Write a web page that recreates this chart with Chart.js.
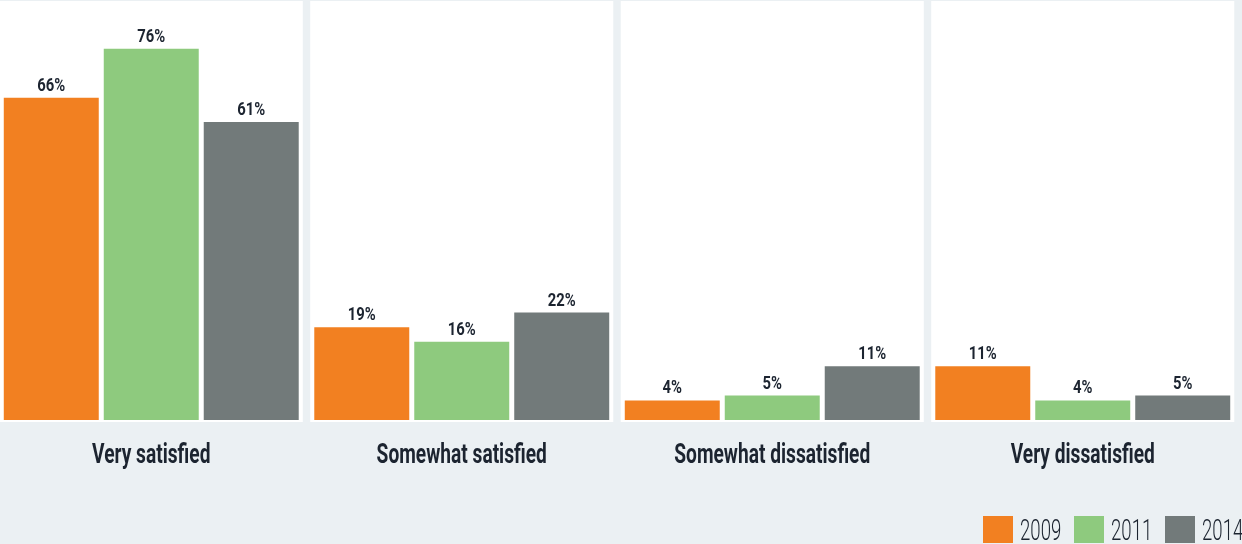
<!DOCTYPE html>
<html>
<head>
<meta charset="utf-8">
<script src="https://cdn.jsdelivr.net/npm/chart.js@4"></script>
<style>
  html, body { margin: 0; padding: 0; background: #ebf0f3; overflow: hidden; }
  #wrap { position: absolute; left: -4px; top: 0; width: 1246px; height: 544px; }
</style>
</head>
<body>
<div id="wrap"><canvas id="satisfaction"></canvas></div>
<script>
const categories = ["Very satisfied", "Somewhat satisfied", "Somewhat dissatisfied", "Very dissatisfied"];
const years = ["2009", "2011", "2014"];
const values2009 = [66, 19, 4, 11];
const values2011 = [76, 16, 5, 4];
const values2014 = [61, 22, 11, 5];
const colors = ["#f28021", "#8eca7e", "#727a7a"];

const FONT = "Roboto, 'DejaVu Sans', sans-serif";
const INK = "#1c2430";

// condensed-looking text: squeeze horizontally around the anchor point
function narrowText(ctx, text, x, y, sx) {
  ctx.save();
  ctx.translate(x, y);
  ctx.scale(sx, 1);
  ctx.fillText(text, 0, 0);
  ctx.restore();
}

// White panel behind each category group
const panels = {
  id: "panels",
  beforeDatasetsDraw(chart) {
    const { ctx, chartArea, scales } = chart;
    const x = scales.x;
    const half = (x.getPixelForValue(1) - x.getPixelForValue(0)) * 0.488;
    ctx.save();
    ctx.fillStyle = "#ffffff";
    categories.forEach((c, i) => {
      const cx = x.getPixelForValue(i);
      ctx.fillRect(cx - half, chartArea.top + 1, half * 2, chartArea.bottom - chartArea.top + 1);
    });
    ctx.restore();
  }
};

// Percent labels above each bar, category names below
const textLabels = {
  id: "textLabels",
  afterDatasetsDraw(chart) {
    const { ctx, chartArea, scales } = chart;
    ctx.save();
    ctx.fillStyle = INK;
    ctx.textAlign = "center";
    ctx.textBaseline = "alphabetic";

    ctx.font = "bold 19px " + FONT;
    chart.data.datasets.forEach((ds, di) => {
      chart.getDatasetMeta(di).data.forEach((bar, i) => {
        narrowText(ctx, ds.data[i] + "%", bar.x, bar.y - 7, 0.78);
      });
    });

    ctx.font = "bold 27px " + FONT;
    categories.forEach((c, i) => {
      narrowText(ctx, c, scales.x.getPixelForValue(i), chartArea.bottom + 43, 0.71);
    });
    ctx.restore();
  }
};

// Year legend in the lower right corner
const yearLegend = {
  id: "yearLegend",
  afterDraw(chart) {
    const { ctx } = chart;
    const slot = 91;
    let x = chart.width - 77 - slot * (years.length - 1);
    ctx.save();
    ctx.font = "300 30px " + FONT;
    ctx.textAlign = "left";
    ctx.textBaseline = "alphabetic";
    chart.data.datasets.forEach((ds) => {
      ctx.fillStyle = ds.backgroundColor;
      ctx.fillRect(x, 516, 30, 27);
      ctx.fillStyle = INK;
      narrowText(ctx, ds.label, x + 37, 539.5, 0.62);
      x += slot;
    });
    ctx.restore();
  }
};

new Chart(document.getElementById("satisfaction"), {
  type: "bar",
  data: {
    labels: categories,
    datasets: [
      { label: years[0], data: values2009, backgroundColor: colors[0] },
      { label: years[1], data: values2011, backgroundColor: colors[1] },
      { label: years[2], data: values2014, backgroundColor: colors[2] }
    ]
  },
  options: {
    responsive: true,
    maintainAspectRatio: false,
    animation: false,
    datasets: {
      bar: { categoryPercentage: 0.966, barPercentage: 0.95 }
    },
    layout: { padding: { top: 0, bottom: 124, left: 0, right: 4 } },
    plugins: {
      legend: { display: false },
      tooltip: { enabled: false }
    },
    scales: {
      x: { display: false },
      y: { display: false, min: 0, max: 86 }
    }
  },
  plugins: [panels, textLabels, yearLegend]
});
</script>
</body>
</html>
